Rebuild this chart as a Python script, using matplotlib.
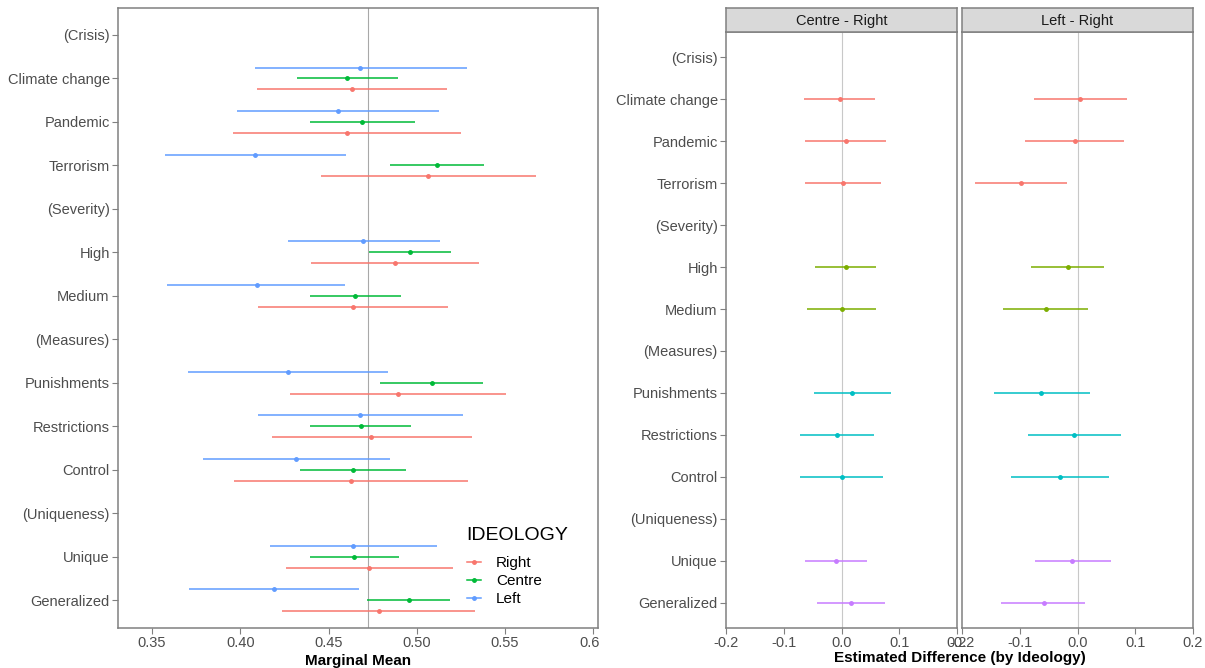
import numpy as np
import matplotlib.pyplot as plt
from matplotlib.lines import Line2D
from matplotlib.patches import Rectangle

plt.rcParams['font.family'] = ['Liberation Sans', 'DejaVu Sans']

# Row labels (headers in brackets carry no estimate)
levels = ["(Crisis)", "Climate change", "Pandemic", "Terrorism",
          "(Severity)", "High", "Medium",
          "(Measures)", "Punishments", "Restrictions", "Control",
          "(Uniqueness)", "Unique", "Generalized"]
features = ["Climate change", "Pandemic", "Terrorism", "High", "Medium",
            "Punishments", "Restrictions", "Control", "Unique", "Generalized"]
feature_group = ["Crisis", "Crisis", "Crisis", "Severity", "Severity",
                 "Measures", "Measures", "Measures", "Uniqueness", "Uniqueness"]

# Marginal means by ideology
right_est = [0.4632, 0.4606, 0.5065, 0.4876, 0.4637, 0.4894, 0.4743, 0.4628, 0.4728, 0.4785]
right_lo = [0.4094, 0.3961, 0.4455, 0.4402, 0.4101, 0.4282, 0.4178, 0.3963, 0.4260, 0.4238]
right_hi = [0.5171, 0.5251, 0.5674, 0.5350, 0.5175, 0.5508, 0.5315, 0.5291, 0.5204, 0.5330]
centre_est = [0.4606, 0.4692, 0.5113, 0.4963, 0.4650, 0.5087, 0.4686, 0.4637, 0.4646, 0.4954]
centre_lo = [0.4320, 0.4393, 0.4850, 0.4732, 0.4393, 0.4792, 0.4397, 0.4340, 0.4393, 0.4719]
centre_hi = [0.4892, 0.4991, 0.5379, 0.5195, 0.4912, 0.5375, 0.4965, 0.4938, 0.4900, 0.5187]
left_est = [0.4681, 0.4555, 0.4083, 0.4697, 0.4094, 0.4271, 0.4681, 0.4318, 0.4641, 0.4189]
left_lo = [0.4083, 0.3983, 0.3573, 0.4269, 0.3586, 0.3706, 0.4101, 0.3788, 0.4171, 0.3708]
left_hi = [0.5284, 0.5127, 0.4597, 0.5131, 0.4593, 0.4838, 0.5260, 0.4847, 0.5113, 0.4674]
grand_mean = 0.4722

# Differences vs Right
cr_est = [-0.0034, 0.0074, 0.0034, 0.0074, 0.0007, 0.0188, -0.0081, 0.0000, -0.0094, 0.0161]
cr_lo = [-0.0644, -0.0638, -0.0624, -0.0456, -0.0597, -0.0477, -0.0711, -0.0725, -0.0624, -0.0430]
cr_hi = [0.0577, 0.0772, 0.0691, 0.0597, 0.0597, 0.0859, 0.0557, 0.0718, 0.0443, 0.0752]
lr_est = [0.0047, -0.0047, -0.0973, -0.0169, -0.0541, -0.0628, -0.0061, -0.0311, -0.0088, -0.0581]
lr_lo = [-0.0757, -0.0912, -0.1770, -0.0811, -0.1284, -0.1453, -0.0865, -0.1149, -0.0736, -0.1318]
lr_hi = [0.0858, 0.0811, -0.0182, 0.0466, 0.0189, 0.0223, 0.0750, 0.0541, 0.0581, 0.0135]

ideo_colors = {"Right": "#F8766D", "Centre": "#00BA38", "Left": "#619CFF"}
group_colors = {"Crisis": "#F8766D", "Severity": "#7CAE00",
                "Measures": "#00BFC4", "Uniqueness": "#C77CFF"}

W, H = 1205, 668
fig = plt.figure(figsize=(W / 100, H / 100), dpi=100)


def px_axes(x0, y0, x1, y1):
    return fig.add_axes([x0 / W, 1 - y1 / H, (x1 - x0) / W, (y1 - y0) / H])


def style(ax, labels=True):
    ax.set_yticks(range(len(levels)))
    ax.set_yticklabels(levels if labels else [])
    for s in ax.spines.values():
        s.set_color("#808080")
        s.set_linewidth(1.1)
    ax.tick_params(colors="#808080", length=4, width=0.8, labelsize=10.5,
                   labelcolor="#4D4D4D", pad=2)
    if not labels:
        ax.tick_params(axis="y", length=0)


ypos = [levels.index(f) for f in features]

# ---- left panel: marginal means
ax = px_axes(118, 8, 598, 628)
ax.axvline(grand_mean, color="#A8A8A8", lw=0.8, zorder=0)
series = [("Left", left_est, left_lo, left_hi, -0.25),
          ("Centre", centre_est, centre_lo, centre_hi, 0.0),
          ("Right", right_est, right_lo, right_hi, 0.25)]
for name, est, lo, hi, off in series:
    y = np.array(ypos) + off
    ax.hlines(y, lo, hi, color=ideo_colors[name], lw=1.1)
    ax.plot(est, y, "o", color=ideo_colors[name], ms=2.5)
ax.set_ylim(13.64, -0.62)
ax.set_xlim(0.3307, 0.6027)
ax.set_xticks([0.35, 0.40, 0.45, 0.50, 0.55, 0.60])
ax.set_xticklabels(["0.35", "0.40", "0.45", "0.50", "0.55", "0.60"])
style(ax)
ax.set_xlabel("Marginal Mean", fontsize=11, fontweight="bold", labelpad=3)

handles = [Line2D([], [], color=ideo_colors[n], marker="o", ms=2.5, lw=1.1)
           for n in ["Right", "Centre", "Left"]]
leg = ax.legend(handles, ["Right", "Centre", "Left"], title="IDEOLOGY",
                loc="upper left", bbox_to_anchor=(453 / W, 1 - 513 / H),
                bbox_transform=fig.transFigure, frameon=False,
                fontsize=11, title_fontsize=14, handlelength=0.9,
                handletextpad=1.0, labelspacing=0.25)
leg._legend_box.align = "left"
leg._legend_box.sep = 9

# cut the last tick label like the reference
fig.patches.append(Rectangle((600 / W, 0), 14 / W, 1, transform=fig.transFigure,
                             facecolor="white", edgecolor="none", zorder=10))

# ---- right panels: differences
panels = [("Centre - Right", cr_est, cr_lo, cr_hi, 726, 957),
          ("Left - Right", lr_est, lr_lo, lr_hi, 962, 1193)]
for k, (title, est, lo, hi, x0, x1) in enumerate(panels):
    a = px_axes(x0, 32, x1, 628)
    a.axvline(0, color="#C8C8C8", lw=0.8, zorder=0)
    for i, g in enumerate(feature_group):
        c = group_colors[g]
        a.hlines(ypos[i], lo[i], hi[i], color=c, lw=1.1)
        a.plot(est[i], ypos[i], "o", color=c, ms=2.5)
    a.set_ylim(13.6, -0.6)
    a.set_xlim(-0.2, 0.2)
    a.set_xticks([-0.2, -0.1, 0.0, 0.1, 0.2])
    a.set_xticklabels(["-0.2", "-0.1", "0.0", "0.1", "0.2"])
    style(a, labels=(k == 0))
    s = px_axes(x0, 8, x1, 32)
    s.set_facecolor("#D9D9D9")
    s.set_xticks([])
    s.set_yticks([])
    for sp in s.spines.values():
        sp.set_color("#808080")
        sp.set_linewidth(1.1)
    s.text(0.5, 0.45, title, ha="center", va="center", fontsize=10.5,
           color="#1A1A1A", transform=s.transAxes)

fig.text(960 / W, 1 - 658 / H, "Estimated Difference (by Ideology)",
         ha="center", va="center", fontsize=11, fontweight="bold")

fig.savefig("out.png", dpi=100)
